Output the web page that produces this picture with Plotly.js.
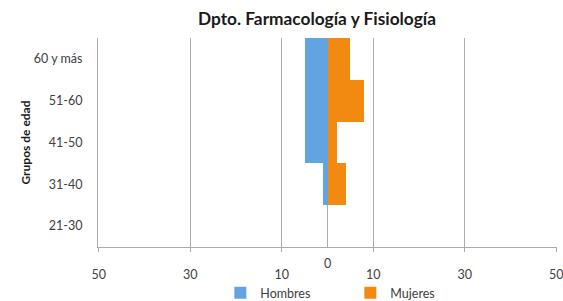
<!DOCTYPE html>
<html>
<head>
<meta charset="utf-8">
<script src="https://cdn.plot.ly/plotly-3.0.1.min.js"></script>
<style>html,body{margin:0;padding:0;background:#fff;}#chart{width:563px;height:301px;}</style>
</head>
<body>
<div id="chart"></div>
<script>
const categories = ["21-30", "31-40", "41-50", "51-60", "60 y más"];
const hombres = [0, 1, 5, 5, 5];
const mujeres = [0, 4, 2, 8, 5];
const tickVals = [-50, -30, -10, 10, 30, 50];
const tickText = ["50", "30", "10", "10", "30", "50"];

const FONT = "Lato, 'Open Sans', sans-serif";
const TXT = "#404040";
const GRID = "#ababab";

const data = [
  {
    type: "bar", orientation: "h", name: "Hombres",
    y: categories, x: hombres.map(v => -v),
    marker: {color: "#62a4e2", line: {width: 0}},
    hoverinfo: "skip"
  },
  {
    type: "bar", orientation: "h", name: "Mujeres",
    y: categories, x: mujeres,
    marker: {color: "#f28a12", line: {width: 0}},
    hoverinfo: "skip"
  }
];

const layout = {
  width: 563, height: 301,
  margin: {l: 98.3, r: 5.6, t: 38, b: 54.3},
  paper_bgcolor: "#fff", plot_bgcolor: "#fff",
  barmode: "relative", bargap: 0,
  font: {family: FONT, size: 12.5, color: TXT},
  title: {
    text: "<b>Dpto. Farmacología y Fisiología</b>",
    font: {family: FONT, size: 17.3, color: "#1a1a1a"},
    x: 317 / 563, xanchor: "center", xref: "container",
    y: 1 - 19 / 301, yanchor: "middle", yref: "container"
  },
  xaxis: {
    range: [-50.15, 50.15], tickvals: tickVals, ticktext: tickText,
    showgrid: true, gridcolor: GRID, gridwidth: 1,
    zeroline: true, zerolinecolor: GRID, zerolinewidth: 1,
    showline: true, linecolor: GRID, linewidth: 1,
    ticks: "outside", ticklen: 4, tickcolor: GRID,
    ticklabelstandoff: 12, ticklabeloverflow: "allow",
    tickfont: {family: FONT, size: 12.5, color: TXT},
    fixedrange: true, automargin: false
  },
  yaxis: {
    type: "category", categoryorder: "array", categoryarray: categories,
    showgrid: false, showline: true, linecolor: GRID, linewidth: 1,
    ticks: "outside", ticklen: 0, ticklabelstandoff: 12,
    tickfont: {family: FONT, size: 12.5, color: TXT},
    title: {text: "<b>Grupos de edad</b>", font: {family: FONT, size: 12, color: "#1a1a1a"}, standoff: 0},
    fixedrange: true, automargin: false
  },
  legend: {
    orientation: "h", x: (220 - 98) / 457.7, xanchor: "left", xref: "paper",
    y: 1 - 293 / 301, yanchor: "middle", yref: "container",
    entrywidth: 85, entrywidthmode: "pixels",
    font: {family: FONT, size: 12.5, color: TXT},
    bgcolor: "rgba(0,0,0,0)"
  },
  annotations: [
    {text: "0", x: 0, xref: "x", y: -(263.3 - 246.7) / 208, yref: "paper",
     showarrow: false, xanchor: "center", yanchor: "middle",
     font: {family: FONT, size: 12.5, color: TXT}}
  ],
  showlegend: true
};

Plotly.newPlot("chart", data, layout, {displayModeBar: false, staticPlot: true});
</script>
</body>
</html>
